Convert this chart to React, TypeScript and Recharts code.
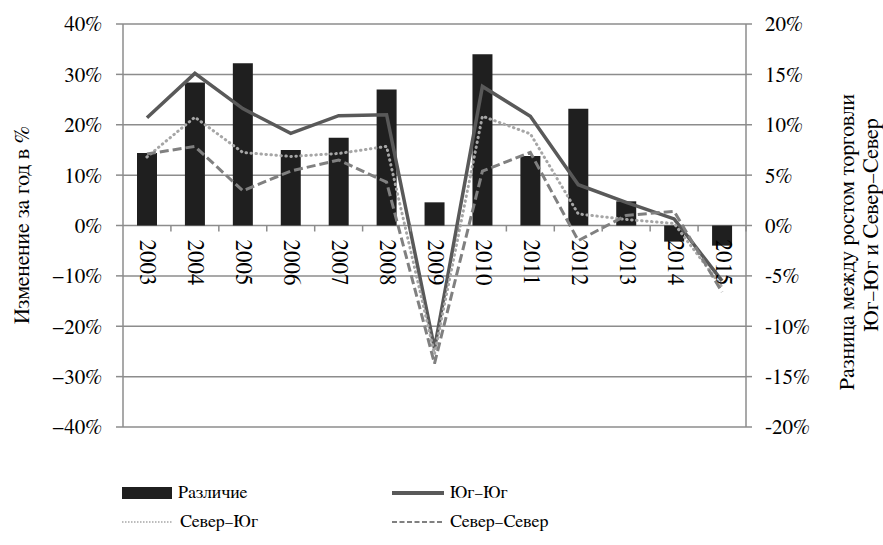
import { ComposedChart, Bar, Line, XAxis, YAxis, CartesianGrid, Legend } from 'recharts';

const years = ['2003', '2004', '2005', '2006', '2007', '2008', '2009', '2010', '2011', '2012', '2013', '2014', '2015'];
// bars, right axis
const difference = [7.2, 14.2, 16.1, 7.5, 8.7, 13.5, 2.3, 17.0, 6.9, 11.6, 2.4, -1.6, -2.0];
// lines, left axis
const southSouth = [21.4, 30.2, 23.2, 18.3, 21.8, 22.0, -24.4, 27.6, 21.7, 8.1, 4.6, 1.3, -11.0];
const northSouth = [13.6, 21.5, 14.5, 13.7, 14.3, 15.7, -25.5, 21.7, 18.2, 2.3, 1.2, 0.4, -12.2];
const northNorth = [14.2, 15.7, 6.9, 10.8, 13.0, 8.6, -27.4, 10.8, 14.5, -3.0, 2.0, 2.8, -13.2];

const leftTicks = [-40, -30, -20, -10, 0, 10, 20, 30, 40];
const rightTicks = [-20, -15, -10, -5, 0, 5, 10, 15, 20];

const data = years.map((year, i) => ({
  year,
  diff: difference[i],
  ss: southSouth[i],
  ns: northSouth[i],
  nn: northNorth[i],
}));

const CHART_W = 883;
const CHART_H = 545;
const TOP = 24;
const XAXIS_H = 1;
const BOTTOM = 117;
const PLOT_BOTTOM = CHART_H - BOTTOM - XAXIS_H;
const ZERO_Y = (TOP + PLOT_BOTTOM) / 2;

const FONT = '"FreeSerif", "Liberation Serif", serif';
const AXIS_GRAY = '#8c8c8c';

const YearTick = (props: any) => {
  const { x, payload } = props;
  const half = payload.offset || 24;
  return (
    <g>
      <line x1={x + half} y1={ZERO_Y} x2={x + half} y2={ZERO_Y + 6} stroke={AXIS_GRAY} strokeWidth={1.5} />
      <text
        x={x}
        y={ZERO_Y + 14}
        transform={`rotate(90, ${x}, ${ZERO_Y + 14})`}
        textAnchor="start"
        dominantBaseline="central"
        fontFamily={FONT}
        fontSize={23}
        fill="#000"
      >
        {payload.value}
      </text>
    </g>
  );
};

const LeftTitle = (props: any) => {
  const { viewBox } = props;
  const cx = viewBox.x + 22;
  const cy = 225;
  return (
    <text x={cx} y={cy} transform={`rotate(-90, ${cx}, ${cy})`} textAnchor="middle" dominantBaseline="central" fontFamily={FONT} fontSize={22} fill="#000">
      Изменение за год в %
    </text>
  );
};

const RightTitle = (props: any) => {
  const { viewBox } = props;
  const x1 = viewBox.x + 101;
  const x2 = viewBox.x + 125;
  return (
    <g>
      <text x={x1} y={242} transform={`rotate(-90, ${x1}, 242)`} textAnchor="middle" dominantBaseline="central" fontFamily={FONT} fontSize={22} fill="#000">
        Разница между ростом торговли
      </text>
      <text x={x2} y={225} transform={`rotate(-90, ${x2}, 225)`} textAnchor="middle" dominantBaseline="central" fontFamily={FONT} fontSize={22} fill="#000">
        Юг–Юг и Север–Север
      </text>
    </g>
  );
};

const legendItems = [
  { name: 'Различие', left: 122, top: 15, kind: 'bar' },
  { name: 'Юг–Юг', left: 392, top: 15, kind: 'solid' },
  { name: 'Север–Юг', left: 122, top: 44, kind: 'dot' },
  { name: 'Север–Север', left: 392, top: 44, kind: 'dash' },
];

const LegendIcon = ({ kind }: { kind: string }) => (
  <svg width={52} height={12} style={{ display: 'block' }}>
    {kind === 'bar' && <rect x={0} y={0} width={50} height={12} fill="#1f1f1f" />}
    {kind === 'solid' && <line x1={0} y1={6} x2={52} y2={6} stroke="#595959" strokeWidth={4} />}
    {kind === 'dot' && <line x1={0} y1={6} x2={50} y2={6} stroke="#a6a6a6" strokeWidth={1.5} strokeDasharray="1.5 1.5" />}
    {kind === 'dash' && <line x1={0} y1={6} x2={50} y2={6} stroke="#808080" strokeWidth={2} strokeDasharray="5 2.5" />}
  </svg>
);

const LegendContent = () => (
  <div style={{ position: 'relative', width: CHART_W, height: 60, fontFamily: FONT, fontSize: 18 }}>
    {legendItems.map((item) => (
      <div
        key={item.name}
        style={{ position: 'absolute', left: item.left, top: item.top - 10, height: 20, display: 'flex', alignItems: 'center' }}
      >
        <LegendIcon kind={item.kind} />
        <span style={{ marginLeft: item.kind === 'bar' ? 4 : 6, lineHeight: '20px' }}>{item.name}</span>
      </div>
    ))}
  </div>
);

export default function App() {
  return (
    <div style={{ position: 'absolute', left: 0, top: 0, width: CHART_W, height: CHART_H, background: '#fff', fontFamily: FONT }}>
      <ComposedChart
        width={CHART_W}
        height={CHART_H}
        data={data}
        margin={{ top: TOP, right: 0, bottom: BOTTOM, left: 0 }}
      >
        <CartesianGrid yAxisId="left" vertical={false} stroke={AXIS_GRAY} strokeWidth={1.5} />
        <XAxis
          dataKey="year"
          height={XAXIS_H}
          axisLine={false}
          tickLine={false}
          interval={0}
          tick={<YearTick />}
        />
        <YAxis
          yAxisId="left"
          width={123}
          domain={[-40, 40]}
          ticks={leftTicks}
          interval={0}
          stroke={AXIS_GRAY}
          strokeWidth={1.5}
          tickSize={7}
          tickMargin={14}
          tick={{ fill: '#000', fontSize: 21, fontFamily: FONT }}
          tickFormatter={(v: number) => (v < 0 ? `−${-v}%` : `${v}%`)}
          label={<LeftTitle />}
        />
        <YAxis
          yAxisId="right"
          orientation="right"
          width={137}
          domain={[-20, 20]}
          ticks={rightTicks}
          interval={0}
          stroke={AXIS_GRAY}
          strokeWidth={1.5}
          tickSize={6}
          tickMargin={13}
          tick={{ fill: '#000', fontSize: 21, fontFamily: FONT }}
          tickFormatter={(v: number) => `${v}%`}
          label={<RightTitle />}
        />
        <Legend
          layout="horizontal"
          verticalAlign="middle"
          align="center"
          wrapperStyle={{ top: 478, left: 0, width: CHART_W }}
          content={<LegendContent />}
        />
        <Bar yAxisId="right" dataKey="diff" name="Различие" fill="#1f1f1f" barSize={20} isAnimationActive={false} />
        <Line
          yAxisId="left"
          dataKey="ss"
          name="Юг–Юг"
          stroke="#595959"
          strokeWidth={3.5}
          dot={false}
          type="linear"
          isAnimationActive={false}
        />
        <Line
          yAxisId="left"
          dataKey="ns"
          name="Север–Юг"
          stroke="#a6a6a6"
          strokeWidth={3}
          strokeDasharray="0.5 4.5"
          strokeLinecap="round"
          dot={false}
          type="linear"
          isAnimationActive={false}
        />
        <Line
          yAxisId="left"
          dataKey="nn"
          name="Север–Север"
          stroke="#808080"
          strokeWidth={3}
          strokeDasharray="9 4"
          dot={false}
          type="linear"
          isAnimationActive={false}
        />
      </ComposedChart>
    </div>
  );
}
